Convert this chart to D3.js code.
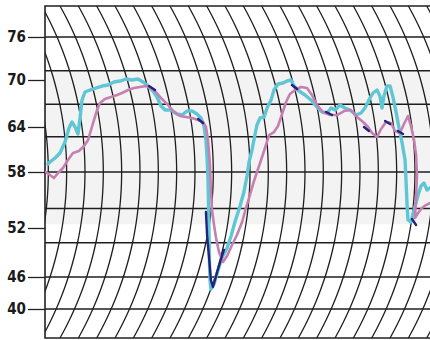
<!DOCTYPE html>
<html>
<head>
<meta charset="utf-8">
<script src="https://cdn.jsdelivr.net/npm/d3@7"></script>
<style>
  body { margin: 0; background: #fff; }
  svg { display: block; }
</style>
</head>
<body>
<div id="chart"></div>
<script>
// temperature ticks on the left, and where the chart paper puts them
const tickValues = [40, 46, 52, 58, 64, 70, 76];
const tickLabels = ["40", "46", "52", "58", "64", "70", "76"];
// horizontal rulings of the paper, in the same units
const gridValues = [40, 46, 50.2, 54.1, 58, 62.7, 66.9, 71.3, 76];

// time in chart divisions (one curved ruling per division)
const cyanT = [0.16, 0.27, 0.55, 0.82, 1.09, 1.31, 1.47, 1.64, 1.80, 1.91, 2.02, 2.18, 2.45, 2.78, 3.11, 3.44, 3.76, 4.09, 4.42, 4.75,
  5.07, 5.35, 5.62, 5.89, 6.11, 6.33, 6.55, 6.87, 7.20, 7.47, 7.75, 8.02, 8.29, 8.51, 8.67, 8.78, 8.84, 8.89, 8.92, 8.95,
  8.97, 9.00, 9.05, 9.22, 9.44, 9.65, 9.93, 10.15, 10.36, 10.64, 10.85, 11.02, 11.13, 11.29, 11.45, 11.56, 11.73, 11.95, 12.11, 12.33,
  12.49, 12.71, 12.98, 13.20, 13.42, 13.58, 13.85, 14.18, 14.51, 14.84, 15.11, 15.38, 15.60, 15.82, 16.09, 16.36, 16.64, 16.96, 17.24, 17.45,
  17.67, 17.89, 18.11, 18.27, 18.38, 18.49, 18.65, 18.82, 18.98, 19.15, 19.31, 19.47, 19.64, 19.69, 19.75, 19.80, 19.96, 20.13, 20.35, 20.51,
  20.67, 20.84, 21.00];
const cyanV = [59.07, 59.33, 59.87, 60.53, 62.0, 63.87, 64.64, 64.0, 63.07, 65.15, 67.45, 68.47, 68.72, 68.98, 69.23, 69.36, 69.74, 69.87, 70.14, 70.0,
  70.14, 69.74, 69.23, 68.60, 67.83, 66.68, 66.17, 66.17, 65.66, 65.53, 66.04, 66.04, 65.66, 65.15, 64.13, 62.27, 59.87, 57.36, 54.46, 51.14,
  47.84, 45.44, 43.75, 44.69, 46.86, 48.33, 49.55, 51.02, 52.64, 54.36, 55.86, 57.57, 59.33, 60.93, 62.93, 64.26, 65.15, 65.28, 66.43, 67.45,
  68.72, 69.49, 69.62, 69.87, 70.0, 69.23, 68.60, 68.09, 67.45, 66.55, 65.91, 65.79, 66.43, 66.17, 66.81, 66.43, 66.17, 65.53, 65.79, 66.43,
  67.45, 68.34, 68.72, 67.96, 66.43, 67.96, 69.23, 69.23, 67.83, 65.91, 63.87, 62.0, 59.6, 57.14, 54.46, 52.86, 52.64, 53.93, 55.54, 56.5,
  56.82, 56.07, 56.29];

const pinkT = [0.05, 0.27, 0.49, 0.71, 0.98, 1.25, 1.53, 1.85, 2.13, 2.35, 2.51, 2.67, 2.84, 3.0, 3.27, 3.60, 3.93, 4.20, 4.53, 4.85,
  5.18, 5.51, 5.78, 6.05, 6.38, 6.71, 7.04, 7.36, 7.69, 8.02, 8.35, 8.62, 8.78, 8.89, 9.0, 9.05, 9.11, 9.22, 9.33, 9.49,
  9.71, 9.93, 10.2, 10.47, 10.75, 10.96, 11.18, 11.40, 11.62, 11.84, 12.05, 12.22, 12.49, 12.71, 12.93, 13.15, 13.36, 13.64, 13.96, 14.29,
  14.56, 14.84, 15.16, 15.55, 15.93, 16.31, 16.69, 17.02, 17.35, 17.62, 17.84, 18.11, 18.33, 18.6, 18.87, 19.09, 19.36, 19.58, 19.8, 19.96,
  20.13, 20.24, 20.29, 20.24, 20.18, 20.35, 20.56, 20.78, 21.0];
const pinkV = [58.0, 57.68, 57.36, 57.89, 58.53, 59.6, 60.53, 60.8, 61.47, 62.27, 63.6, 64.89, 66.17, 67.06, 67.57, 67.83, 68.09, 68.34, 68.72, 68.98,
  69.11, 69.23, 68.98, 68.47, 67.57, 66.81, 65.91, 65.40, 65.28, 65.15, 64.89, 64.64, 64.0, 62.27, 58.93, 56.07, 53.93, 52.32, 50.78, 49.06,
  47.84, 48.57, 49.92, 51.14, 52.64, 54.14, 55.54, 57.04, 58.4, 60.0, 61.6, 62.93, 63.33, 64.13, 65.66, 67.19, 68.21, 68.72, 69.11, 68.98,
  68.09, 66.81, 65.91, 65.53, 65.53, 66.04, 66.17, 65.28, 64.64, 64.0, 63.2, 62.67, 63.73, 64.64, 64.51, 63.47, 63.2, 64.38, 65.40, 64.13,
  62.27, 60.27, 57.68, 55.21, 53.07, 53.61, 54.14, 54.46, 54.68];

// dark trace, only seen in short stretches (null = not visible)
const navyT = [5.67, 6.0, null, 8.35, 8.62, null, 8.78, 8.84, 8.95, 9.05, 9.16, 9.33, 9.55, 9.76, null,
  13.47, 13.75, null, 15.33, 15.66, null, 17.4, 17.67, null, 18.55, 18.82, null, 19.25, 19.53, null, 20.02, 20.24];
const navyV = [69.23, 68.72, null, 65.02, 64.51, null, 53.71, 51.14, 48.33, 45.44, 44.13, 46.12, 47.84, 49.31, null,
  69.36, 68.85, null, 65.91, 65.53, null, 64.0, 63.47, null, 64.77, 64.38, null, 63.47, 63.07, null, 52.96, 52.32];

const W = 430, H = 340;
const plot = { left: 45, right: 430, top: 6, bottom: 338 };

const svg = d3.select("#chart").append("svg")
  .attr("width", W)
  .attr("height", H);

const x = d3.scaleLinear().domain([0, 21]).range([plot.left, plot.right]);
const y = d3.scaleLinear()
  .domain(tickValues)
  .range([309, 277, 228, 172, 127, 80, 37]);

svg.append("clipPath").attr("id", "plotclip")
  .append("rect")
  .attr("x", plot.left).attr("y", plot.top)
  .attr("width", plot.right - plot.left).attr("height", plot.bottom - plot.top);

// faint grey band of the paper behind the traces
svg.append("rect")
  .attr("x", plot.left)
  .attr("y", y(71.3))
  .attr("width", plot.right - plot.left)
  .attr("height", y(52.4) - y(71.3))
  .attr("fill", "#f3f3f3");

const grid = svg.append("g").attr("clip-path", "url(#plotclip)");

// curved time rulings: same circle shifted one division at a time
const R = 340, cy = 172;
const ys = d3.range(plot.top - 2, plot.bottom + 4, 3);
const arc = d3.line()
  .x(d => d[0])
  .y(d => d[1]);

d3.range(-1, 24).forEach(k => {
  const xm = x(k + 0.18);
  const pts = ys.map(yy => [xm - (R - Math.sqrt(R * R - (yy - cy) * (yy - cy))), yy]);
  grid.append("path")
    .attr("d", arc(pts))
    .attr("fill", "none")
    .attr("stroke", "#1e1e1e")
    .attr("stroke-width", 1.3);
});

grid.selectAll(".hline")
  .data(gridValues)
  .join("line")
  .attr("class", "hline")
  .attr("x1", plot.left)
  .attr("x2", plot.right)
  .attr("y1", d => y(d))
  .attr("y2", d => y(d))
  .attr("stroke", "#1e1e1e")
  .attr("stroke-width", 1.5);

// frame: top, bottom, left
svg.append("path")
  .attr("d", `M${plot.right},${plot.top}H${plot.left}V${plot.bottom}H${plot.right}`)
  .attr("fill", "none")
  .attr("stroke", "#222")
  .attr("stroke-width", 1.6);

// traces
const traces = svg.append("g").attr("clip-path", "url(#plotclip)");
const line = d3.line()
  .defined(d => d[0] !== null && d[1] !== null)
  .x(d => x(d[0]))
  .y(d => y(d[1]));

const navy = navyT.map((t, i) => [t, navyV[i]]);
const cyan = cyanT.map((t, i) => [t, cyanV[i]]);
const pink = pinkT.map((t, i) => [t, pinkV[i]]);

traces.append("path")
  .datum(cyan)
  .attr("fill", "none")
  .attr("stroke", "#5fc6d6")
  .attr("stroke-width", 3.4)
  .attr("stroke-linejoin", "round")
  .attr("stroke-linecap", "round")
  .attr("d", line);

traces.append("path")
  .datum(pink)
  .attr("fill", "none")
  .attr("stroke", "#c67fb1")
  .attr("stroke-width", 2.6)
  .attr("stroke-linejoin", "round")
  .attr("stroke-linecap", "round")
  .attr("d", line);

traces.append("path")
  .datum(navy)
  .attr("fill", "none")
  .attr("stroke", "#23237e")
  .attr("stroke-width", 2.4)
  .attr("stroke-linejoin", "round")
  .attr("stroke-linecap", "round")
  .attr("d", line);

// left axis
const axis = svg.append("g")
  .attr("transform", `translate(${plot.left},0)`)
  .call(d3.axisLeft(y)
    .tickValues(tickValues)
    .tickFormat((d, i) => tickLabels[i])
    .tickSize(17)
    .tickPadding(2));

axis.select(".domain").remove();
axis.selectAll(".tick line")
  .attr("stroke", "#222")
  .attr("stroke-width", 1.3);
axis.selectAll(".tick text")
  .attr("fill", "#1a1a1a")
  .style("font-family", "'Liberation Sans Narrow', 'DejaVu Sans Condensed', 'Arial Narrow', sans-serif")
  .style("font-weight", "700")
  .style("font-size", "15px");
</script>
</body>
</html>
